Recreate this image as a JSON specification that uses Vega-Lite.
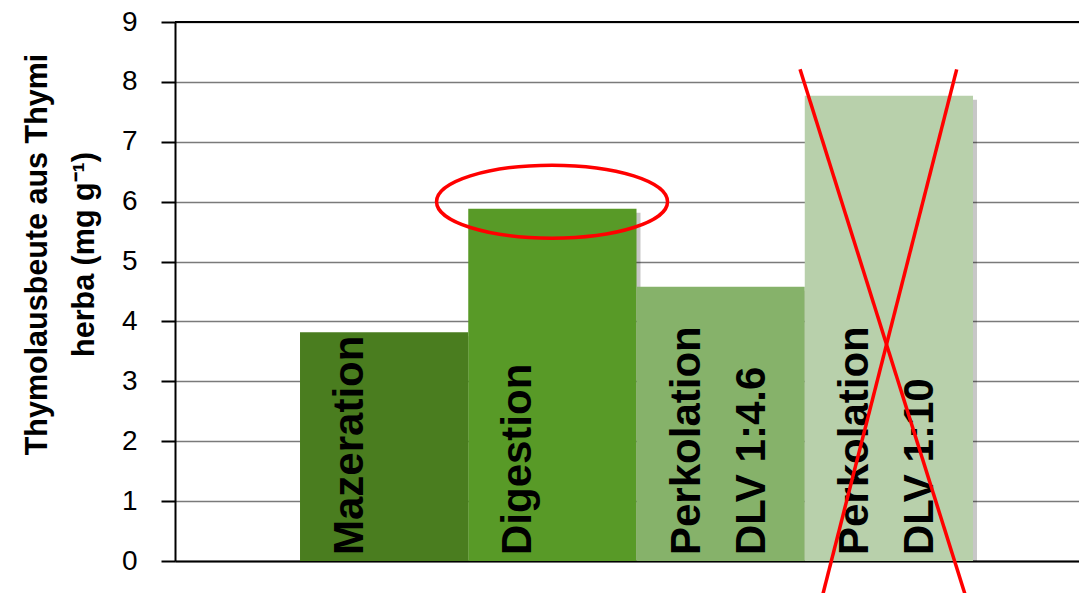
{
  "$schema": "https://vega.github.io/schema/vega-lite/v6.json",
  "width": 904,
  "height": 539,
  "autosize": {"type": "none"},
  "padding": {"left": 175, "top": 22, "right": 0, "bottom": 32},
  "background": "white",
  "config": {"view": {"stroke": null}, "font": "Liberation Sans"},
  "datasets": {
    "bars": [
      {"method": "Mazeration", "label": ["Mazeration"], "x0": 0, "x1": 1, "value": 3.82},
      {"method": "Digestion", "label": ["Digestion"], "x0": 1, "x1": 2, "value": 5.88},
      {"method": "Perkolation DLV 1:4.6", "label": ["Perkolation", "DLV 1:4.6"], "x0": 2, "x1": 3, "value": 4.58},
      {"method": "Perkolation DLV 1:10", "label": ["Perkolation", "DLV 1:10"], "x0": 3, "x1": 4, "value": 7.77}
    ],
    "cross": [
      {"xa": 2.972, "ya": 8.21, "xb": 3.952, "yb": -0.55},
      {"xa": 3.903, "ya": 8.21, "xb": 3.108, "yb": -0.55}
    ],
    "ellipse": [{"cx": 1.498, "cy": 6.0}]
  },
  "layer": [
    {
      "data": {"name": "bars"},
      "mark": {"type": "rect", "color": "#000000", "opacity": 0.22, "xOffset": 4, "x2Offset": 4, "yOffset": 4},
      "encoding": {
        "x": {"field": "x0", "type": "quantitative", "scale": {"domain": [-0.743, 4.63], "nice": false, "zero": false},
          "axis": {"labels": false, "ticks": false, "grid": false, "title": null, "domainColor": "#000000", "domainWidth": 2}},
        "x2": {"field": "x1"},
        "y": {"field": "value", "type": "quantitative", "scale": {"domain": [0, 9], "nice": false},
          "axis": {"values": [0,1,2,3,4,5,6,7,8,9], "format": "d", "title": ["Thymolausbeute aus Thymi", "herba (mg g⁻¹)"],
            "titleFont": "Liberation Sans", "titleFontSize": 30.5, "titleFontWeight": "bold", "titleColor": "#000000",
            "titleLineHeight": 47, "titleAngle": 270, "titleX": -138, "titleY": 232, "titleAlign": "center", "titleBaseline": "middle",
            "labelFont": "Liberation Sans", "labelFontSize": 28, "labelColor": "#000000", "labelPadding": 24,
            "tickSize": 14, "tickColor": "#000000", "tickWidth": 2, "domainColor": "#000000", "domainWidth": 2,
            "grid": true, "gridColor": "#7a7a7a", "gridWidth": 1.6}},
        "y2": {"datum": 0}
      }
    },
    {
      "data": {"name": "bars"},
      "mark": {"type": "rect"},
      "encoding": {
        "x": {"field": "x0", "type": "quantitative"},
        "x2": {"field": "x1"},
        "y": {"field": "value", "type": "quantitative"},
        "y2": {"datum": 0},
        "color": {"field": "method", "type": "nominal", "legend": null,
          "scale": {"domain": ["Mazeration", "Digestion", "Perkolation DLV 1:4.6", "Perkolation DLV 1:10"],
                    "range": ["#4a7d1f", "#589a27", "#86b26a", "#b8d0ab"]}}
      }
    },
    {
      "data": {"name": "bars"},
      "mark": {"type": "text", "angle": 270, "align": "left", "baseline": "alphabetic", "font": "Liberation Sans",
               "fontSize": 42, "fontWeight": "bold", "lineHeight": 65, "color": "#000000", "dx": 6, "dy": 63},
      "encoding": {
        "x": {"field": "x0", "type": "quantitative"},
        "y": {"datum": 0, "type": "quantitative"},
        "text": {"field": "label"}
      }
    },
    {
      "data": {"values": [{"top": 9}]},
      "mark": {"type": "rule", "color": "#000000", "strokeWidth": 2},
      "encoding": {"y": {"field": "top", "type": "quantitative"}}
    },
    {
      "data": {"name": "ellipse"},
      "mark": {"type": "point", "shape": "M -1 0 A 1 0.316 0 1 1 1 0 A 1 0.316 0 1 1 -1 0 Z", "size": 53361,
               "filled": false, "stroke": "#ff0000", "strokeWidth": 3.5, "opacity": 1},
      "encoding": {
        "x": {"field": "cx", "type": "quantitative"},
        "y": {"field": "cy", "type": "quantitative"}
      }
    },
    {
      "data": {"name": "cross"},
      "mark": {"type": "rule", "color": "#ff0000", "strokeWidth": 3.5},
      "encoding": {
        "x": {"field": "xa", "type": "quantitative"},
        "y": {"field": "ya", "type": "quantitative"},
        "x2": {"field": "xb"},
        "y2": {"field": "yb"}
      }
    }
  ]
}
